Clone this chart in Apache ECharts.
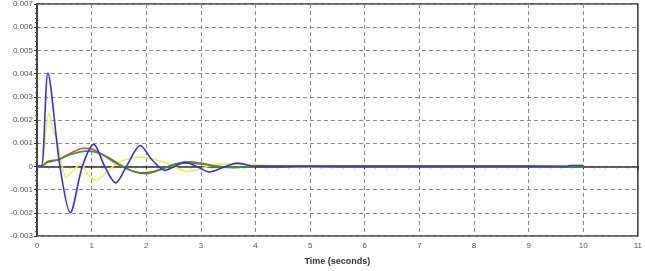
<!DOCTYPE html>
<html>
<head>
<meta charset="utf-8">
<script src="https://cdn.jsdelivr.net/npm/echarts@6/dist/echarts.min.js"></script>
<style>
  html, body { margin: 0; padding: 0; background: #fff; }
  #chart { width: 645px; height: 271px; }
</style>
</head>
<body>
<div id="chart"></div>
<script>
// time points (s) and responses
const yellowT = [0, 0.07, 0.22, 0.3, 0.36, 0.45, 0.53, 0.65, 0.8, 0.95, 1.08, 1.25, 1.45, 1.7, 1.92, 2.15, 2.34, 2.5, 2.75, 3.0, 3.3, 3.6, 4.0, 4.3, 5.0, 5.5, 6, 7, 8, 9, 10];
const yellowV = [0, 0, 0.0023, 0.0015, 0.0012, 0.0001, -0.00046, -0.0002, 0.0001, -0.0004, -0.0006, -0.0003, 0.0001, 0.00035, 0.0004, 0.0003, 0.00018, 0, -0.00022, -0.0001, 0.0001, 0.0001, 0.00008, 0.00003, -0.00005, 0, 0, 0, 0, 0, 0];

const redT = [0, 0.07, 0.2, 0.4, 0.6, 0.85, 1.0, 1.2, 1.4, 1.6, 1.8, 2.0, 2.2, 2.4, 2.6, 2.8, 3.0, 3.3, 3.6, 4.0, 5, 6, 7, 8, 9, 10];
const redV = [0, 0, 0.00018, 0.0003, 0.00055, 0.00078, 0.00075, 0.0005, 0.0002, -0.00005, -0.00025, -0.00031, -0.0002, 0, 0.00015, 0.0002, 0.00014, 0, -0.00005, 0, 0, 0, 0, 0, 0, -0.00003];

const greenT = [0, 0.07, 0.2, 0.4, 0.6, 0.9, 1.1, 1.3, 1.5, 1.7, 1.95, 2.2, 2.4, 2.6, 2.8, 3.0, 3.3, 3.6, 4.0, 5, 6, 7, 8, 9, 10];
const greenV = [0, 0, 0.00022, 0.0003, 0.0005, 0.00066, 0.0006, 0.0004, 0.0001, -0.00015, -0.00028, -0.00018, 0, 0.00012, 0.00015, 0.0001, 0, -0.00004, 0, 0, 0, 0, 0, 0, -0.00003];

const blueT = [0, 0.08, 0.2, 0.42, 0.61, 0.83, 1.04, 1.24, 1.44, 1.66, 1.89, 2.1, 2.34, 2.52, 2.7, 2.92, 3.16, 3.4, 3.67, 4.0, 5, 6, 7, 8, 9, 9.7, 9.75, 10];
const blueV = [0, 0, 0.00402, 0, -0.002, 0, 0.00095, 0, -0.00071, 0.0001, 0.0009, 0.0003, -0.00017, 0, 0.00018, 0, -0.00024, -0.00005, 0.00014, 0, 0, 0, 0, 0, 0, 0, 0.00004, 0.00004];

const pairs = (t, v) => t.map((x, i) => [x, v[i]]);

const chart = echarts.init(document.getElementById('chart'));

const gridLine = { show: true, lineStyle: { color: '#8a8a8a', type: [4, 3], width: 1 } };
const labelStyle = { color: '#555', fontSize: 8, fontFamily: 'Liberation Sans, Arial, sans-serif' };

const mkLine = (name, t, v, color) => ({
    name: name,
    type: 'line',
    data: pairs(t, v),
    showSymbol: false,
    smooth: 0.3,
    lineStyle: { color: color, width: 1.6 },
    itemStyle: { color: color },
    animation: false,
});

const option = {
    animation: false,
    grid: {
        left: 37, right: 5, top: 3, bottom: 34,
        show: true, borderColor: '#333', borderWidth: 1.5,
    },
    xAxis: {
        type: 'value',
        min: 0, max: 11, interval: 1,
        name: 'Time (seconds)',
        nameLocation: 'middle',
        nameGap: 21,
        nameTextStyle: { color: '#333', fontSize: 9, fontWeight: 'bold', fontFamily: 'Liberation Sans, Arial, sans-serif' },
        axisLine: { lineStyle: { color: '#333', width: 1.5 } },
        axisTick: { show: true, inside: false, length: 3, lineStyle: { color: '#333' } },
        minorTick: { show: true, splitNumber: 5, length: 2, lineStyle: { color: '#555' } },
        axisLabel: Object.assign({ margin: 6 }, labelStyle),
        splitLine: gridLine,
    },
    yAxis: {
        type: 'value',
        min: -0.003, max: 0.007, interval: 0.001,
        axisLine: { show: true, lineStyle: { color: '#333', width: 1.5 } },
        axisTick: { show: true, inside: false, length: 3, lineStyle: { color: '#333' } },
        minorTick: { show: true, splitNumber: 5, length: 2, lineStyle: { color: '#555' } },
        axisLabel: Object.assign({
            margin: 4,
            formatter: (v) => Math.abs(v) < 1e-9 ? '0' : v.toFixed(3),
        }, labelStyle),
        splitLine: gridLine,
    },
    series: [
        mkLine('yellow', yellowT, yellowV, '#f2f23a'),
        mkLine('red', redT, redV, '#f03c3c'),
        mkLine('green', greenT, greenV, '#2e9a2e'),
        mkLine('blue', blueT, blueV, '#2f2ff0'),
    ],
};

chart.setOption(option);
</script>
</body>
</html>
